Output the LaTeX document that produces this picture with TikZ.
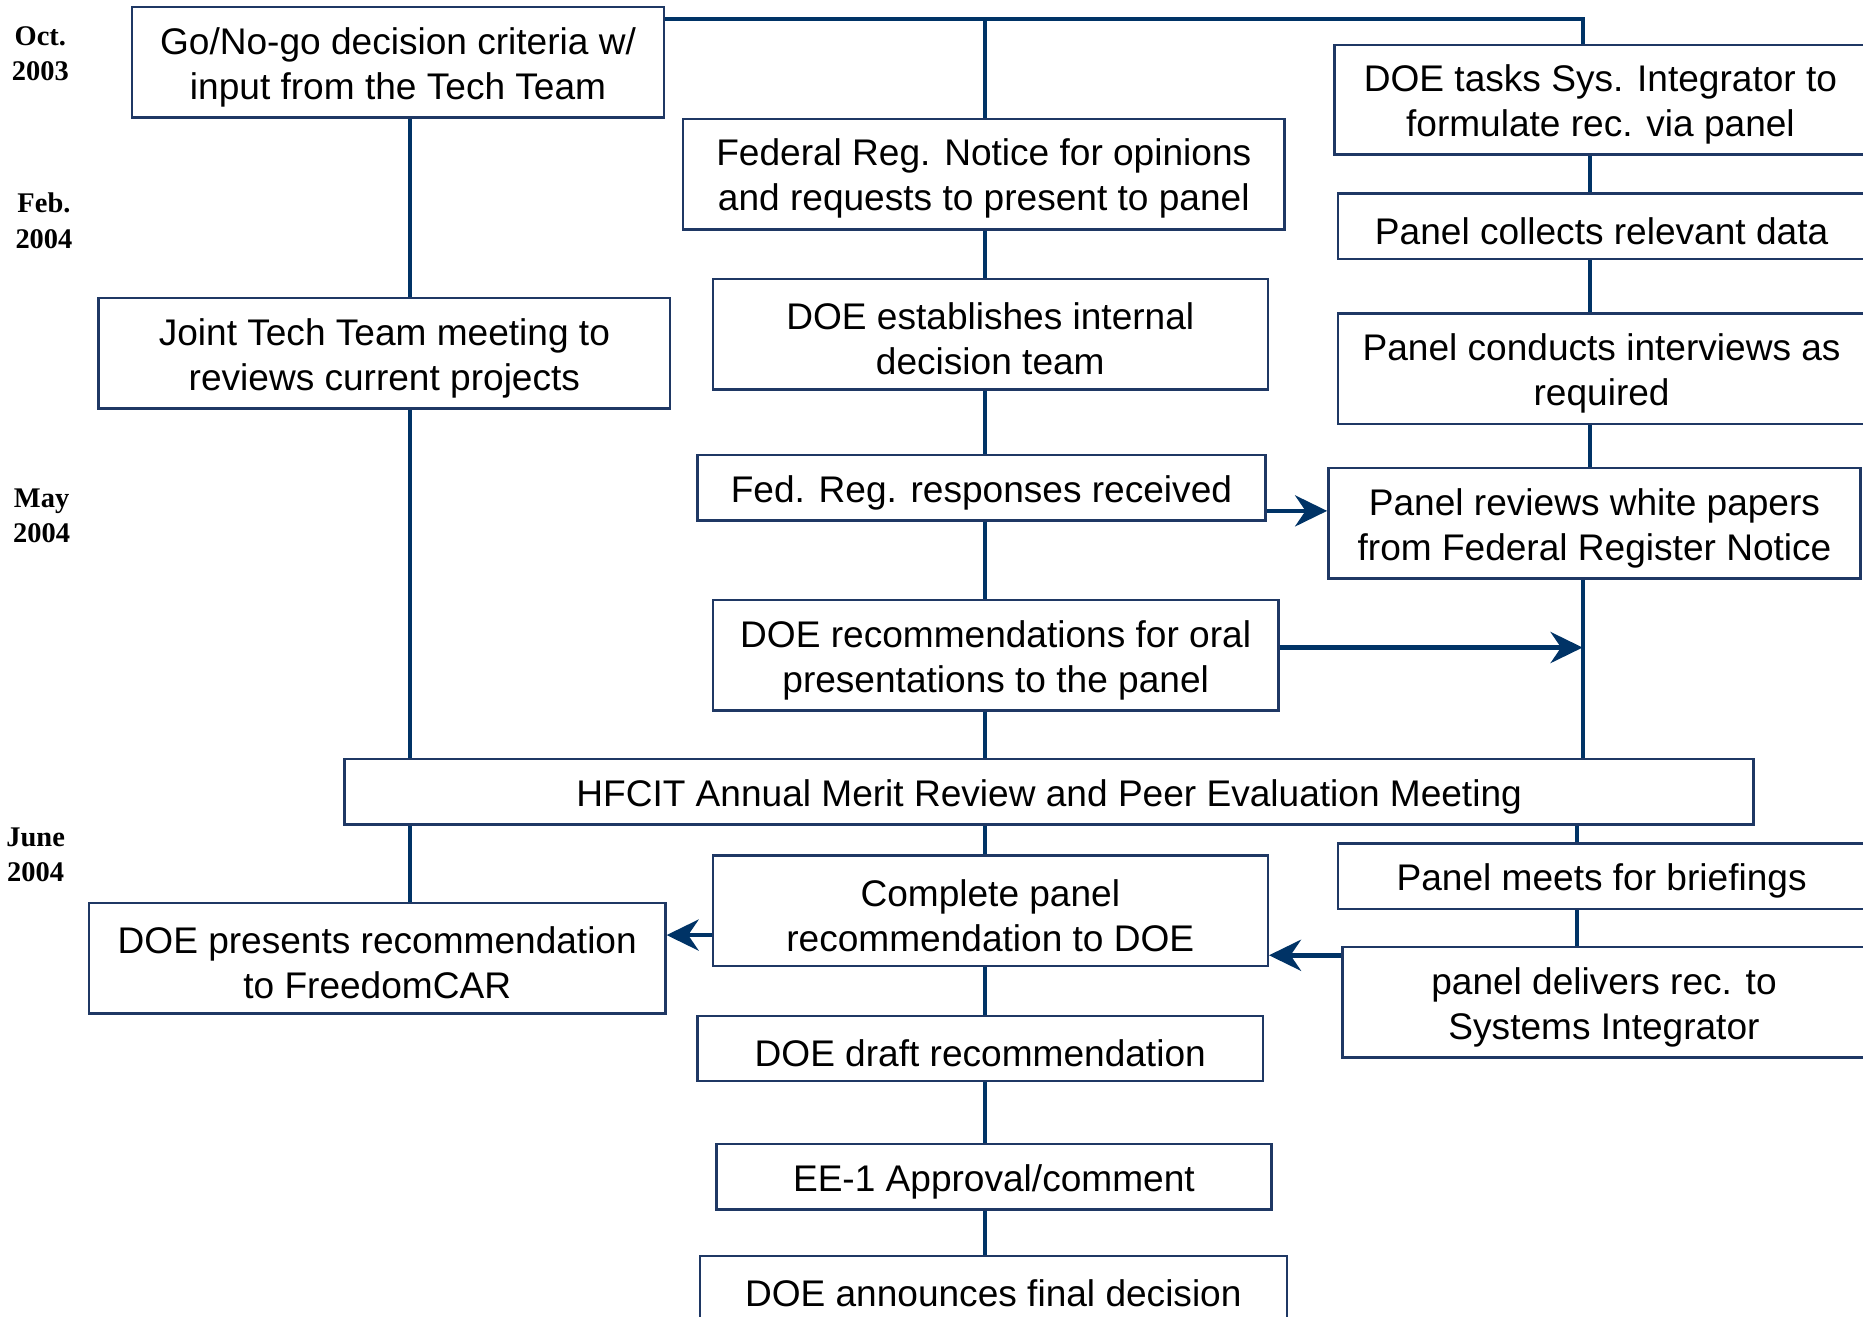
\documentclass[tikz,border=0pt]{standalone}
\usepackage{fontspec}
\setmainfont{Liberation Sans}
\newfontfamily\datefont{Liberation Serif}
\usetikzlibrary{arrows.meta}
\definecolor{navy}{RGB}{0,51,102}
\definecolor{boxblue}{RGB}{31,56,100}
\def\px{0.01188cm}

\begin{document}
\begin{tikzpicture}[x=\px,y=-\px,>=Stealth,
  box/.style={draw=boxblue,line width=0.7pt,fill=white,inner sep=0pt},
  boxtext/.style={align=center,inner sep=0pt,font=\fontsize{10.55}{12.8}\selectfont},
  link/.style={navy,line width=1.1pt},
  arr/.style={navy,line width=1.35pt,-{Stealth[length=3.2mm,width=3.1mm]}},
  date/.style={align=center,font=\datefont\bfseries\fontsize{8.1}{10.1}\selectfont}]
  \useasboundingbox (0,0) rectangle (1568,1108);
  \clip (0,0) rectangle (1568,1108);

  % columns and rows for the connectors
  \coordinate (colL) at (345,0);
  \coordinate (colC) at (829,0);
  \coordinate (colR) at (1338,0);
  \coordinate (colS) at (1332,0);
  \coordinate (colT) at (1327,0);
  \coordinate (top) at (1332,16);
  \coordinate (r1) at (0,430);
  \coordinate (r2) at (0,545);
  \coordinate (r3) at (0,787);
  \coordinate (r4) at (0,804);

  % dates
  \foreach \m/\yr/\x/\y [count=\i] in {Oct./2003/34/45,Feb./2004/37/186,May/2004/35/434,June/2004/30/719.5}
    \node[date] (date\i) at (\x,\y) {\m\\\yr};

  % boxes: name/x/y/width/height/text
  \foreach \n/\x/\y/\w/\h/\t in {
      gng/335/52.5/448/93/{Go/No-go decision criteria w/\\input from the Tech Team},
      jtt/323.5/297.5/481/93/{Joint Tech Team meeting to\\reviews current projects},
      dpr/317.5/806.5/485/93/{DOE presents recommendation\\to FreedomCAR},
      frn/828/146.5/506/93/{Federal Reg. Notice for opinions\\and requests to present to panel},
      det/833.5/281.5/467/93/{DOE establishes internal\\decision team},
      frr/826/410.5/478/55/{Fed. Reg. responses received},
      dro/838/551.5/476/93/{DOE recommendations for oral\\presentations to the panel},
      hf/883/666.5/1186/55/{HFCIT Annual Merit Review and Peer Evaluation Meeting},
      cpr/833.5/766.5/467/93/{Complete panel\\recommendation to DOE},
      ddr/825/882.5/476/55/{DOE draft recommendation},
      ee/836.5/990.5/467/55/{EE-1 Approval/comment},
      dafd/836/1084.5/494/55/{DOE announces final decision},
      dts/1347/84/448/92/{DOE tasks Sys. Integrator to\\formulate rec. via panel},
      pcd/1348/190.5/444/55/{Panel collects relevant data},
      pci/1348/310.5/444/93/{Panel conducts interviews as\\required},
      prw/1342/440.5/448/93/{Panel reviews white papers\\from Federal Register Notice},
      pmb/1348/737.5/444/55/{Panel meets for briefings},
      pdr/1350/843.5/440/93/{panel delivers rec. to\\Systems Integrator}}
  {
    \node[box,minimum width=\w*\px,minimum height=\h*\px] (\n) at (\x,\y) {};
    \node[boxtext] (\n t) at ([yshift=-4*\px]\n.center) {\t};
  }

  % top line
  \draw[link] (gng.east |- top) -- (top) -- (dts.north -| top);
  \draw[link] (colC |- top) -- (frn.north -| colC);

  % vertical links
  \foreach \a/\b/\c in {gng/jtt/colL,jtt/hf/colL,hf/dpr/colL,
      frn/det/colC,det/frr/colC,frr/dro/colC,dro/hf/colC,hf/cpr/colC,cpr/ddr/colC,ddr/ee/colC,ee/dafd/colC,
      dts/pcd/colR,pcd/pci/colR,pci/prw/colR,prw/hf/colS,hf/pmb/colT,pmb/pdr/colT}
    \draw[link] (\a.south -| \c) -- (\b.north -| \c);

  % arrows
  \draw[arr] (frr.east |- r1) -- (prw.west |- r1);
  \draw[arr] (dro.east |- r2) -- (colS |- r2);
  \draw[arr] (cpr.west |- r3) -- (dpr.east |- r3);
  \draw[arr] (pdr.west |- r4) -- (cpr.east |- r4);
\end{tikzpicture}
\end{document}
